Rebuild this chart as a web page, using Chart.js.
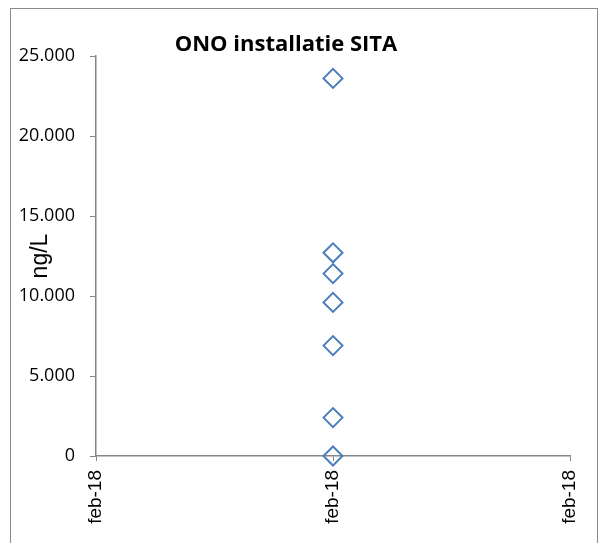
<!DOCTYPE html>
<html>
<head>
<meta charset="utf-8">
<title>ONO installatie SITA</title>
<script src="https://cdn.jsdelivr.net/npm/chart.js@4.4.1/dist/chart.umd.min.js"></script>
<style>
  body { margin: 0; background: #fff; }
  canvas { display: block; }
</style>
</head>
<body>
<canvas id="chart" width="603" height="543"></canvas>
<script>
// sample data
const chartTitle = "ONO installatie SITA";
const yAxisTitle = "ng/L";
const sampleDates = ["2018-02-14", "2018-02-14", "2018-02-14", "2018-02-14", "2018-02-14", "2018-02-14", "2018-02-14"];
const concentrations = [23600, 12700, 11400, 9600, 6900, 2400, 0];
const yTicks = [0, 5000, 10000, 15000, 20000, 25000];
const monthNames = ["jan", "feb", "mrt", "apr", "mei", "jun", "jul", "aug", "sep", "okt", "nov", "dec"];

const DAY = 86400000;
const dayNumbers = sampleDates.map(d => Math.round(Date.parse(d) / DAY));
const centerDay = dayNumbers[0];

function formatDay(dayNr) {
  const d = new Date(dayNr * DAY);
  return monthNames[d.getUTCMonth()] + "-" + String(d.getUTCFullYear()).slice(2);
}

function formatThousands(v) {
  return String(v).replace(/\B(?=(\d{3})+(?!\d))/g, ".");
}

const axisGray = "#868686";

// frame + titles drawn on top of the chart, Excel style
const decorPlugin = {
  id: "decor",
  afterDraw(chart) {
    const ctx = chart.ctx;
    ctx.save();
    ctx.strokeStyle = "#8c8c8c";
    ctx.lineWidth = 1;
    ctx.strokeRect(10.5, 8.5, 587, 600);

    ctx.fillStyle = "#000";
    ctx.font = "bold 22px 'Open Sans'";
    ctx.textAlign = "center";
    ctx.textBaseline = "alphabetic";
    ctx.fillText(chartTitle, 286, 51);

    ctx.translate(47, 256);
    ctx.rotate(-Math.PI / 2);
    ctx.font = "23px 'Liberation Sans'";
    ctx.textAlign = "center";
    ctx.fillText(yAxisTitle, 0, 0);
    ctx.restore();
  }
};

new Chart(document.getElementById("chart"), {
  type: "scatter",
  data: {
    datasets: [{
      label: chartTitle,
      data: dayNumbers.map((x, i) => ({ x: x, y: concentrations[i] })),
      pointStyle: "rectRot",
      pointRadius: 9.5,
      pointHoverRadius: 9.5,
      borderColor: "#4a7ebb",
      backgroundColor: "rgba(0,0,0,0)",
      pointBorderWidth: 2,
      clip: false
    }]
  },
  options: {
    responsive: false,
    animation: false,
    devicePixelRatio: 1,
    layout: { padding: { top: 56, right: 33, left: 0, bottom: 0 } },
    plugins: {
      legend: { display: false },
      tooltip: { enabled: false },
      title: { display: false }
    },
    scales: {
      x: {
        type: "linear",
        min: centerDay - 1,
        max: centerDay + 1,
        afterFit: scale => { scale.height = 87; },
        afterBuildTicks: scale => {
          scale.ticks = [centerDay - 1, centerDay, centerDay + 1].map(v => ({ value: v }));
        },
        grid: {
          drawOnChartArea: false,
          color: axisGray,
          tickLength: 5,
          tickColor: axisGray
        },
        border: { color: axisGray, width: 1.5 },
        ticks: {
          minRotation: 90,
          maxRotation: 90,
          padding: 9,
          color: "#000",
          font: { family: "'Liberation Sans'", size: 19 },
          callback: v => formatDay(v)
        }
      },
      y: {
        min: 0,
        max: 25000,
        afterFit: scale => { scale.width = 96; },
        afterBuildTicks: scale => {
          scale.ticks = yTicks.map(v => ({ value: v }));
        },
        grid: {
          drawOnChartArea: false,
          color: axisGray,
          tickLength: 6,
          tickColor: axisGray
        },
        border: { color: axisGray, width: 1.5 },
        ticks: {
          padding: 15,
          color: "#000",
          font: { family: "'Open Sans'", size: 18 },
          callback: v => formatThousands(v)
        }
      }
    }
  },
  plugins: [decorPlugin]
});
</script>
</body>
</html>
